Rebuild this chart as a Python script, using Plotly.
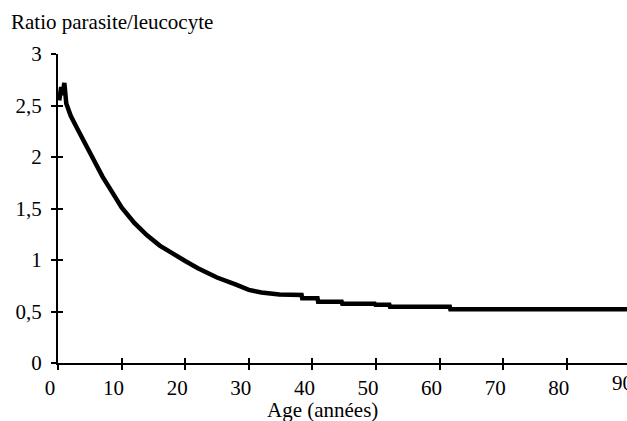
import plotly.graph_objects as go

# Data
ages = [0.2, 0.5, 0.7, 1.0, 1.3, 1.6, 2, 3, 4, 5, 6, 7, 8, 9, 10, 12, 14, 16, 18, 20,
        22, 25, 28, 30, 32, 34.8, 38.3, 38.4, 40.8, 40.9, 44.6, 44.7, 49.8, 49.9,
        52.1, 52.2, 61.6, 61.7, 70, 80, 90]
ratios = [2.55, 2.68, 2.60, 2.72, 2.52, 2.46, 2.40, 2.28, 2.16, 2.04, 1.92, 1.81, 1.71,
          1.61, 1.51, 1.36, 1.24, 1.14, 1.06, 0.99, 0.92, 0.83, 0.76, 0.71, 0.685, 0.665,
          0.66, 0.628, 0.628, 0.595, 0.595, 0.576, 0.576, 0.566, 0.566, 0.547, 0.547,
          0.521, 0.521, 0.521, 0.521]

x_ticks = [0, 10, 20, 30, 40, 50, 60, 70, 80, 90]
y_ticks = [0, 0.5, 1, 1.5, 2, 2.5, 3]

title_text = "Ratio parasite/leucocyte"
xlabel_text = "Age (années)"

W, H = 627, 421
ML, MT, MB = 58, 54, 58
px_per_year = 6.36
x_max = (W - ML) / px_per_year
shift_years = 8 / px_per_year

FONT = dict(family="Times New Roman, Liberation Serif, serif", size=21, color="black")

fig = go.Figure()
fig.add_trace(go.Scatter(x=ages, y=ratios, mode="lines",
                         line=dict(color="black", width=4.5), showlegend=False,
                         hoverinfo="skip"))
# dummy traces to activate overlay axes
fig.add_trace(go.Scatter(x=[None], y=[None], xaxis="x2", yaxis="y2", showlegend=False))
fig.add_trace(go.Scatter(x=[None], y=[None], xaxis="x3", yaxis="y", showlegend=False))

fig.update_layout(
    template="none",
    width=W, height=H,
    margin=dict(l=ML, r=0, t=MT, b=MB, pad=0),
    paper_bgcolor="white", plot_bgcolor="white",
    separators=",.",
    font=FONT,
    xaxis=dict(range=[0, x_max], tickvals=x_ticks, ticks="outside", ticklen=5,
               tickwidth=2, tickcolor="black", showline=True, linecolor="black",
               linewidth=2, showgrid=False, zeroline=False, tickfont=FONT,
               ticklabelshift=-8, ticklabelstandoff=0, automargin=False),
    xaxis2=dict(range=[0, x_max], overlaying="x", anchor="y", tickvals=x_ticks,
                ticks="inside", ticklen=5, tickwidth=2, tickcolor="black",
                showticklabels=False, showline=False, showgrid=False, zeroline=False),
    xaxis3=dict(range=[shift_years, x_max + shift_years], overlaying="x", anchor="y",
                side="bottom", tickvals=[90], ticktext=["90"], ticks="",
                showline=False, showgrid=False, zeroline=False, tickfont=FONT,
                ticklabelstandoff=5, ticklabeloverflow="allow", automargin=False),
    yaxis=dict(range=[0, 3], tickvals=y_ticks, ticks="outside", ticklen=5,
               tickwidth=2, tickcolor="black", showline=True, linecolor="black",
               linewidth=2, showgrid=False, zeroline=False, tickfont=FONT,
               ticklabelstandoff=5, automargin=False),
    yaxis2=dict(range=[0, 3], overlaying="y", anchor="x", tickvals=y_ticks,
                ticks="inside", ticklen=5, tickwidth=2, tickcolor="black",
                showticklabels=False, showline=False, showgrid=False, zeroline=False),
    annotations=[
        dict(text=title_text, xref="paper", yref="paper", x=-ML / (W - ML) + 9 / (W - ML),
             y=1 + (MT - 22) / (H - MT - MB), xanchor="left", yanchor="middle",
             showarrow=False, font=FONT),
        dict(text=xlabel_text, xref="paper", yref="paper", x=(322 - ML) / (W - ML),
             y=-(410 - (H - MB)) / (H - MT - MB), xanchor="center", yanchor="middle",
             showarrow=False, font=FONT),
    ],
)

fig.write_html("out.html")
